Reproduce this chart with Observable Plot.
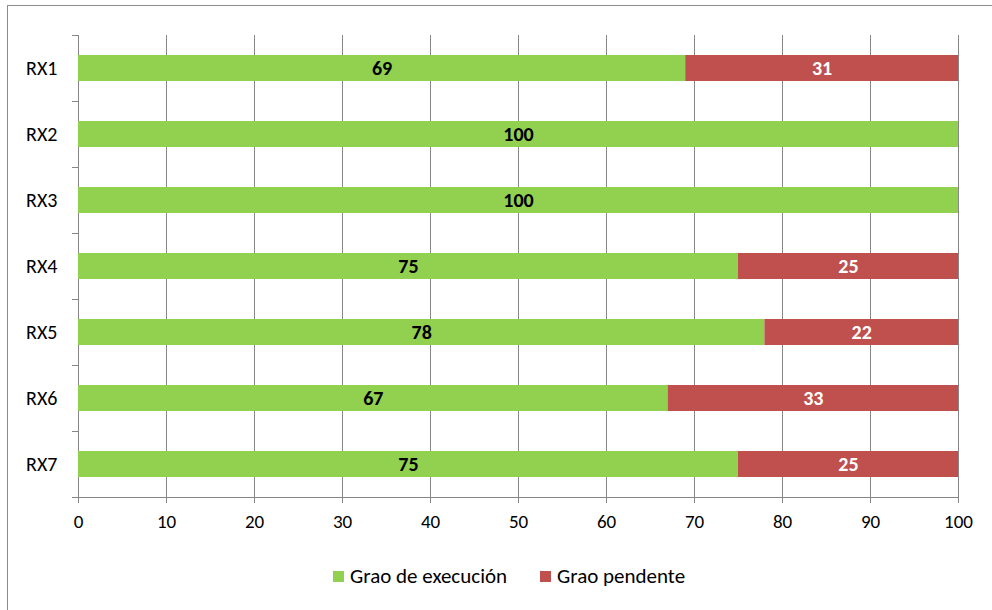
<!DOCTYPE html>
<html>
<head>
<meta charset="utf-8">
<script src="https://cdn.jsdelivr.net/npm/d3@7"></script>
<script src="https://cdn.jsdelivr.net/npm/@observablehq/plot@0.6"></script>
<style>
  html, body { margin: 0; padding: 0; background: #fff; overflow: hidden; }
  #wrap { position: relative; width: 992px; height: 610px; overflow: hidden; font-family: Carlito, Calibri, Lato, sans-serif; }
  #border { position: absolute; left: 7px; top: 5px; width: 1010px; height: 620px; border: 1px solid #8c8c8c; box-sizing: border-box; }
  #chart { position: absolute; left: 0; top: 0; }
  #legend { position: absolute; top: 565px; left: 0; width: 992px; height: 22px; font-size: 21px; color: #000; }
  .item { position: absolute; top: 0; display: flex; align-items: center; height: 22px; }
  .sw { width: 11px; height: 11px; margin-right: 6px; }
</style>
</head>
<body>
<div id="wrap">
  <div id="border"></div>
  <div id="chart"></div>
  <div id="legend"></div>
</div>
<script>
const categories = ["RX1", "RX2", "RX3", "RX4", "RX5", "RX6", "RX7"];
const execucion = [69, 100, 100, 75, 78, 67, 75];
const pendente = [31, 0, 0, 25, 22, 33, 25];
const seriesNames = ["Grao de execución", "Grao pendente"];
const seriesColors = ["#92D050", "#C0504D"];
const xTicks = [0, 10, 20, 30, 40, 50, 60, 70, 80, 90, 100];

const data = [];
categories.forEach((c, i) => {
  data.push({cat: c, series: seriesNames[0], value: execucion[i]});
  data.push({cat: c, series: seriesNames[1], value: pendente[i]});
});

const gray = "#868686";
const chart = Plot.plot({
  width: 992,
  height: 560,
  marginLeft: 78,
  marginRight: 34,
  marginTop: 35,
  marginBottom: 63,
  style: {fontFamily: "Carlito, Calibri, Lato, sans-serif", fontSize: "19px", color: "#000", background: "transparent"},
  x: {domain: [0, 100], ticks: xTicks},
  y: {domain: categories, paddingInner: 0.6, paddingOuter: 0.3, label: null},
  color: {domain: seriesNames, range: seriesColors},
  marks: [
    Plot.gridX(xTicks, {stroke: gray, strokeOpacity: 1, strokeWidth: 1}),
    Plot.ruleX([0], {stroke: gray, strokeWidth: 1}),
    Plot.ruleY(categories, {y: d => d, x1: 0, x2: 0, insetLeft: -6, dy: -33, stroke: gray}),
    Plot.ruleY([categories[categories.length - 1]], {y: d => d, x1: 0, x2: 100, insetLeft: -6, dy: 33, stroke: gray}),
    Plot.axisX(xTicks, {tickSize: 6, tickPadding: 11, stroke: gray, fill: "#000", label: null, fontSize: 19}),
    Plot.axisY({tickSize: 0, tickPadding: 21, label: null, fill: "#000", fontSize: 20}),
    Plot.barX(data, Plot.stackX({x: "value", y: "cat", fill: "series", order: seriesNames})),
    Plot.text(data, Plot.stackX({x: "value", y: "cat", z: "series", order: seriesNames,
      text: d => d.series === seriesNames[0] && d.value > 0 ? String(d.value) : "",
      fill: "#000", fontWeight: "bold", fontSize: 20})),
    Plot.text(data, Plot.stackX({x: "value", y: "cat", z: "series", order: seriesNames,
      text: d => d.series === seriesNames[1] && d.value > 0 ? String(d.value) : "",
      fill: "#fff", fontWeight: "bold", fontSize: 20}))
  ]
});
document.getElementById("chart").appendChild(chart);

const legend = document.getElementById("legend");
const positions = [333, 540];
seriesNames.forEach((name, i) => {
  const item = document.createElement("div");
  item.className = "item";
  item.style.left = positions[i] + "px";
  const sw = document.createElement("div");
  sw.className = "sw";
  sw.style.background = seriesColors[i];
  const label = document.createElement("span");
  label.textContent = name;
  item.appendChild(sw);
  item.appendChild(label);
  legend.appendChild(item);
});
</script>
</body>
</html>
